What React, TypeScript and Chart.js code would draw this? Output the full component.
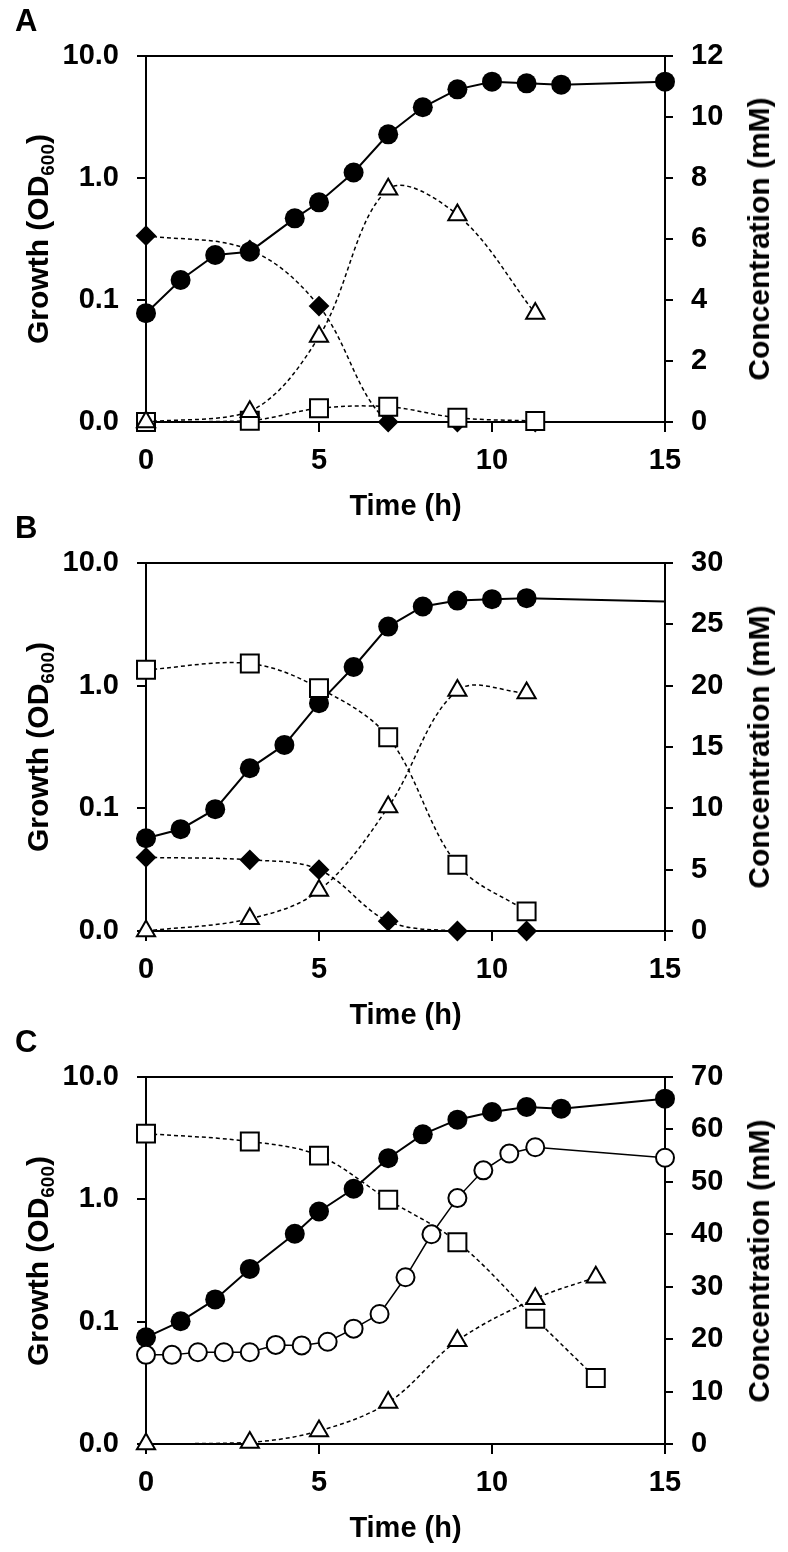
import React, { useEffect, useRef } from "react";
import { Chart, registerables } from "chart.js";
Chart.register(...registerables);

const FONT = "'Liberation Sans', Arial, Helvetica, sans-serif";

// ---------- Panel A ----------
const aGrowthTime = [0, 1, 2, 3, 4.3, 5, 6, 7, 8, 9, 10, 11, 12, 15];
const aGrowthOD = [0.078, 0.146, 0.234, 0.249, 0.467, 0.632, 1.11, 2.28, 3.8, 5.33, 6.16, 5.97, 5.82, 6.16];
const aSampleTime = [0, 3, 5, 7, 9, 11.25];
const aDiamond = [6.11, 5.64, 3.8, 0.0, 0.0, 0.0];
const aTriangle = [0, 0.34, 2.8, 7.63, 6.79, 3.56];
const aSquare = [0, 0.04, 0.45, 0.5, 0.14, 0.03];

// ---------- Panel B ----------
const bGrowthTime = [0, 1, 2, 3, 4, 5, 6, 7, 8, 9, 10, 11, 15];
const bGrowthOD = [0.057, 0.0676, 0.0984, 0.212, 0.329, 0.72, 1.42, 3.03, 4.42, 4.94, 5.07, 5.17, 4.85];
const bSampleTime = [0, 3, 5, 7, 9, 11];
const bSquare = [21.3, 21.8, 19.8, 15.8, 5.4, 1.6];
const bDiamond = [6.0, 5.8, 5.0, 0.8, 0, 0];
const bTriangle = [0, 1.0, 3.3, 10.1, 19.6, 19.4];

// ---------- Panel C ----------
const cGrowthTime = [0, 1, 2, 3, 4.3, 5, 6, 7, 8, 9, 10, 11, 12, 15];
const cGrowthOD = [0.0745, 0.1007, 0.152, 0.27, 0.523, 0.796, 1.22, 2.17, 3.4, 4.48, 5.17, 5.68, 5.51, 6.65];
const cOpenTime = [0, 0.75, 1.5, 2.25, 3, 3.75, 4.5, 5.25, 6, 6.75, 7.5, 8.25, 9, 9.75, 10.5, 11.25, 15];
const cOpenCircle = [17.0, 17.0, 17.5, 17.5, 17.5, 18.9, 18.8, 19.5, 22.0, 24.8, 31.8, 40.0, 46.9, 52.2, 55.4, 56.6, 54.6];
const cSampleTime = [0, 3, 5, 7, 9, 11.25, 13];
const cSquare = [59.2, 57.7, 55.0, 46.6, 38.5, 23.9, 12.6];
const cTriangle = [0, 0.3, 2.5, 7.9, 19.7, 27.7, 31.8];

// ---------- Axes ----------
const growthTicks = [0.01, 0.1, 1, 10];
const growthTickLabels = ["0.0", "0.1", "1.0", "10.0"];
const timeMin = 0;
const timeMax = 15;
const timeStep = 5;
const concMaxA = 12, concStepA = 2;
const concMaxB = 30, concStepB = 5;
const concMaxC = 70, concStepC = 10;

const pts = (xs: number[], ys: number[]) => xs.map((x, i) => ({ x, y: ys[i] }));

const frameTop = {
  id: "frameTop",
  afterDraw(chart: any) {
    const { ctx, chartArea } = chart;
    ctx.save();
    ctx.strokeStyle = "#000";
    ctx.lineWidth = 2;
    ctx.beginPath();
    ctx.moveTo(chartArea.left - 9, chartArea.top);
    ctx.lineTo(chartArea.right + 8, chartArea.top);
    ctx.stroke();
    ctx.restore();
  },
};

function growthDs(xs: number[], ys: number[], hideLast = false) {
  return {
    data: pts(xs, ys),
    yAxisID: "y",
    borderColor: "#000",
    borderWidth: 2,
    tension: 0,
    pointStyle: "circle",
    pointRadius: (c: any) => (hideLast && c.dataIndex === xs.length - 1 ? 0 : 10),
    pointBackgroundColor: "#000",
    pointBorderColor: "#000",
    pointBorderWidth: 0,
    clip: false,
  };
}
function openCircleDs(xs: number[], ys: number[]) {
  return {
    data: pts(xs, ys),
    yAxisID: "y2",
    borderColor: "#000",
    borderWidth: 1.5,
    tension: 0,
    pointStyle: "circle",
    pointRadius: 9,
    pointBackgroundColor: "#fff",
    pointBorderColor: "#000",
    pointBorderWidth: 2,
    clip: false,
  };
}
function dashedDs(xs: number[], ys: number[], style: string, radius: number, fill: string) {
  return {
    data: pts(xs, ys),
    yAxisID: "y2",
    borderColor: "#000",
    borderWidth: 1.5,
    borderDash: [4, 3],
    tension: 0.35,
    pointStyle: style,
    pointRadius: radius,
    pointBackgroundColor: fill,
    pointBorderColor: "#000",
    pointBorderWidth: 2,
    clip: false,
  };
}

function buildConfig(datasets: any[], concMax: number, concStep: number): any {
  const tickFont = { family: FONT, size: 29, weight: "bold" as const };
  const gridOpts = (len: number) => ({
    display: true,
    drawOnChartArea: false,
    drawTicks: true,
    tickLength: len,
    color: "#000",
    lineWidth: 2,
  });
  const border = { display: true, color: "#000", width: 2 };
  return {
    type: "line",
    data: { datasets },
    plugins: [frameTop],
    options: {
      animation: false,
      responsive: false,
      devicePixelRatio: 1,
      layout: { padding: { top: 56, left: 0, right: 0, bottom: 0 } },
      plugins: { legend: { display: false }, tooltip: { enabled: false }, title: { display: false } },
      scales: {
        x: {
          type: "linear",
          position: "bottom",
          min: timeMin,
          max: timeMax,
          ticks: { stepSize: timeStep, font: tickFont, color: "#000", padding: 12 },
          grid: gridOpts(10),
          border,
          title: { display: true, text: "Time (h)", font: tickFont, color: "#000", padding: 0 },
          afterFit: (s: any) => { s.height = 102; },
        },
        y: {
          type: "logarithmic",
          position: "left",
          min: 0.01,
          max: 10,
          afterBuildTicks: (axis: any) => { axis.ticks = growthTicks.map((v) => ({ value: v })); },
          ticks: {
            autoSkip: false,
            font: tickFont,
            color: "#000",
            padding: 18,
            callback: (v: any) => { const i = growthTicks.indexOf(Number(v)); return i >= 0 ? growthTickLabels[i] : ""; },
          },
          grid: gridOpts(9),
          border,
          afterFit: (s: any) => { s.width = 146; },
        },
        y2: {
          type: "linear",
          position: "right",
          min: 0,
          max: concMax,
          ticks: { stepSize: concStep, font: tickFont, color: "#000", padding: 18 },
          grid: gridOpts(8),
          border,
          afterFit: (s: any) => { s.width = 123; },
        },
      },
    },
  };
}

const panels = [
  {
    letter: "A", top: 0, height: 524, concMax: concMaxA, concStep: concStepA,
    datasets: () => [
      dashedDs(aSampleTime, aTriangle, "triangle", 10.5, "#fff"),
      dashedDs(aSampleTime, aSquare, "rect", 12.7, "#fff"),
      growthDs(aGrowthTime, aGrowthOD),
      dashedDs(aSampleTime, aDiamond, "rectRot", 9, "#000"),
    ],
  },
  {
    letter: "B", top: 507, height: 526, concMax: concMaxB, concStep: concStepB,
    datasets: () => [
      dashedDs(bSampleTime, bTriangle, "triangle", 10.5, "#fff"),
      dashedDs(bSampleTime, bSquare, "rect", 12.7, "#fff"),
      growthDs(bGrowthTime, bGrowthOD, true),
      dashedDs(bSampleTime, bDiamond, "rectRot", 9, "#000"),
    ],
  },
  {
    letter: "C", top: 1021, height: 525, concMax: concMaxC, concStep: concStepC,
    datasets: () => [
      dashedDs(cSampleTime, cTriangle, "triangle", 10.5, "#fff"),
      openCircleDs(cOpenTime, cOpenCircle),
      dashedDs(cSampleTime, cSquare, "rect", 12.7, "#fff"),
      growthDs(cGrowthTime, cGrowthOD),
    ],
  },
];

function Panel({ p }: { p: any }) {
  const ref = useRef<HTMLCanvasElement>(null);
  useEffect(() => {
    const chart = new Chart(ref.current as HTMLCanvasElement, buildConfig(p.datasets(), p.concMax, p.concStep));
    return () => chart.destroy();
  }, []);
  const areaTop = p.top + 56;
  const areaBottom = p.top + p.height - 102;
  const cy = (areaTop + areaBottom) / 2;
  const titleStyle: React.CSSProperties = {
    position: "absolute",
    top: cy,
    transform: "translate(-50%, -50%) rotate(-90deg)",
    whiteSpace: "nowrap",
    font: `bold 30px ${FONT}`,
    lineHeight: "30px",
    color: "#000",
  };
  return (
    <>
      <canvas
        ref={ref}
        width={788}
        height={p.height}
        style={{ position: "absolute", left: 0, top: p.top, width: 788, height: p.height }}
      />
      <div style={{ position: "absolute", left: 15, top: p.top + 5, font: `bold 31px ${FONT}`, lineHeight: "31px", color: "#000" }}>
        {p.letter}
      </div>
      <div style={{ ...titleStyle, left: 40 }}>
        Growth (OD<span style={{ fontSize: 19, position: "relative", top: 6 }}>600</span>)
      </div>
      <div style={{ ...titleStyle, left: 759 }}>Concentration (mM)</div>
    </>
  );
}

export default function App() {
  return (
    <div style={{ position: "absolute", left: 0, top: 0, width: 788, height: 1552, background: "#fff" }}>
      {panels.map((p) => (
        <Panel key={p.letter} p={p} />
      ))}
    </div>
  );
}
